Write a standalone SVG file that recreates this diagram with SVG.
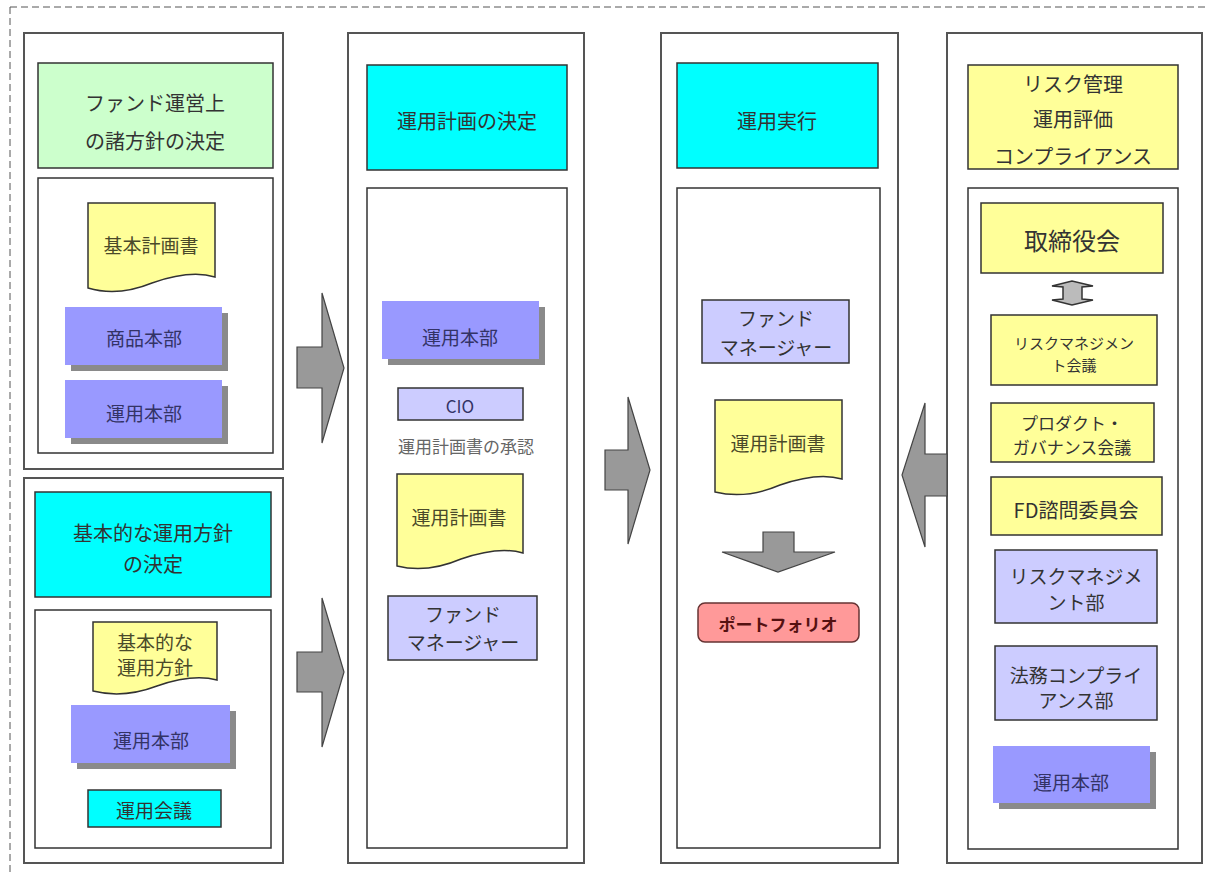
<svg xmlns="http://www.w3.org/2000/svg" width="1206" height="874" viewBox="0 0 1206 874">
<style>
text{font-family:"Noto Sans CJK JP","Noto Sans",sans-serif;text-anchor:middle;dominant-baseline:central;fill:#333}
.outer{fill:#fff;stroke:#555;stroke-width:2}
.inner{fill:#fff;stroke:#333;stroke-width:1.5}
.green{fill:#ccffcc;stroke:#333;stroke-width:1.5}
.cyan{fill:#00ffff;stroke:#333;stroke-width:1.5}
.yellow{fill:#ffff99;stroke:#333;stroke-width:1.5}
.lav{fill:#ccccff;stroke:#333;stroke-width:1.5}
.purple{fill:#9999ff}
.shadow{fill:#8a8a8a}
.doc{fill:#ffff99;stroke:#333;stroke-width:1.5}
.pink{fill:#ff9999;stroke:#663333;stroke-width:1.5}
.arrow{fill:#999;stroke:#444;stroke-width:1.2}
.h{font-size:20px}
.m{font-size:19px}
.s{font-size:17px}
.pt{fill:#333366}
.dt{fill:#4a4a2a}
</style>
<path d="M10,7 H1206 M10,7 V874" fill="none" stroke="#555" stroke-width="1" stroke-dasharray="7,4"/>

<g id="col1-top">
<rect class="outer" x="24" y="33" width="259" height="436"/>
<rect class="green" x="38" y="63" width="235" height="105"/>
<text class="h" x="155" y="102">ファンド運営上</text>
<text class="h" x="155" y="140">の諸方針の決定</text>
<rect class="inner" x="38" y="178" width="235" height="275"/>
</g>
<g id="doc-kihon-keikaku">
<path class="doc" d="M88,203 H215 V277 C195,271 172,276 152,283 C130,292 108,294 88,288 Z"/>
<text class="m dt" x="151" y="244">基本計画書</text>
</g>
<g id="shohin-honbu">
<rect class="shadow" x="71" y="313" width="157" height="58"/>
<rect class="purple" x="65" y="307" width="157" height="58"/>
<text class="m pt" x="144" y="337">商品本部</text>
</g>
<g id="unyo-honbu-1">
<rect class="shadow" x="71" y="386" width="157" height="58"/>
<rect class="purple" x="65" y="380" width="157" height="58"/>
<text class="m pt" x="144" y="412">運用本部</text>
</g>

<g id="col1-bottom">
<rect class="outer" x="24" y="478" width="259" height="385"/>
<rect class="cyan" x="35" y="492" width="236" height="105"/>
<text class="h" x="153" y="532">基本的な運用方針</text>
<text class="h" x="153" y="563">の決定</text>
<rect class="inner" x="35" y="610" width="236" height="238"/>
</g>
<g id="doc-kihonteki">
<path class="doc" d="M93,622 H217 V680 C198,675 177,679 157,686 C136,694 113,696 93,691 Z"/>
<text class="m dt" x="155" y="641">基本的な</text>
<text class="m dt" x="155" y="666">運用方針</text>
</g>
<g id="unyo-honbu-2">
<rect class="shadow" x="77" y="711" width="159" height="58"/>
<rect class="purple" x="71" y="705" width="159" height="58"/>
<text class="m pt" x="151" y="739">運用本部</text>
</g>
<g id="unyo-kaigi">
<rect class="cyan" x="88" y="790" width="133" height="37"/>
<text class="m" x="154" y="809">運用会議</text>
</g>

<g id="col2">
<rect class="outer" x="348" y="33" width="236" height="830"/>
<rect class="cyan" x="367" y="65" width="200" height="105"/>
<text class="h" x="467" y="120">運用計画の決定</text>
<rect class="inner" x="367" y="188" width="200" height="660"/>
</g>
<g id="unyo-honbu-3">
<rect class="shadow" x="388" y="307" width="157" height="58"/>
<rect class="purple" x="382" y="301" width="157" height="58"/>
<text class="m pt" x="460" y="336">運用本部</text>
</g>
<g id="cio">
<rect class="lav" x="398" y="388" width="125" height="32"/>
<text class="s pt" x="460" y="405">CIO</text>
</g>
<g id="shonin-label">
<text class="s" x="466" y="445" style="fill:#666">運用計画書の承認</text>
</g>
<g id="doc-unyo-keikaku-1">
<path class="doc" d="M397,474 H523 V553 C503,547 481,552 461,559 C440,568 417,571 397,566 Z"/>
<text class="m dt" x="459" y="516">運用計画書</text>
</g>
<g id="fm-1">
<rect class="lav" x="388" y="596" width="149" height="64"/>
<text class="m" x="463" y="613">ファンド</text>
<text class="m" x="463" y="641">マネージャー</text>
</g>

<g id="col3">
<rect class="outer" x="661" y="33" width="237" height="830"/>
<rect class="cyan" x="677" y="63" width="201" height="105"/>
<text class="h" x="777" y="120">運用実行</text>
<rect class="inner" x="677" y="188" width="203" height="660"/>
</g>
<g id="fm-2">
<rect class="lav" x="702" y="300" width="147" height="63"/>
<text class="m" x="776" y="317">ファンド</text>
<text class="m" x="776" y="346">マネージャー</text>
</g>
<g id="doc-unyo-keikaku-2">
<path class="doc" d="M715,400 H842 V479 C822,473 800,478 780,485 C759,494 736,497 715,492 Z"/>
<text class="m dt" x="778" y="442">運用計画書</text>
</g>
<g id="portfolio">
<rect class="pink" x="698" y="603" width="161" height="39" rx="7"/>
<text class="s" x="778" y="623" style="fill:#551111;font-weight:bold">ポートフォリオ</text>
</g>

<g id="col4">
<rect class="outer" x="947" y="33" width="255" height="830"/>
<rect class="yellow" x="968" y="65" width="210" height="104"/>
<text class="h" x="1073" y="83">リスク管理</text>
<text class="h" x="1073" y="118">運用評価</text>
<text class="h" x="1073" y="155">コンプライアンス</text>
<rect class="inner" x="968" y="188" width="210" height="661"/>
</g>
<g id="torishimariyakukai">
<rect class="yellow" x="981" y="203" width="182" height="70"/>
<text x="1072" y="239" style="font-size:24px">取締役会</text>
</g>
<g id="risk-kaigi">
<rect class="yellow" x="991" y="315" width="166" height="70"/>
<text x="1074" y="342" style="font-size:15px">リスクマネジメン</text>
<text x="1074" y="364" style="font-size:15px">ト会議</text>
</g>
<g id="product-kaigi">
<rect class="yellow" x="991" y="403" width="163" height="59"/>
<text class="s" x="1072" y="422">プロダクト・</text>
<text class="s" x="1072" y="446">ガバナンス会議</text>
</g>
<g id="fd-iinkai">
<rect class="yellow" x="991" y="477" width="171" height="58"/>
<text class="h" x="1076" y="509">FD諮問委員会</text>
</g>
<g id="risk-bu">
<rect class="lav" x="995" y="550" width="162" height="73"/>
<text class="m" x="1076" y="575">リスクマネジメ</text>
<text class="m" x="1076" y="601">ント部</text>
</g>
<g id="homu-bu">
<rect class="lav" x="995" y="646" width="162" height="74"/>
<text class="m" x="1076" y="674">法務コンプライ</text>
<text class="m" x="1076" y="699">アンス部</text>
</g>
<g id="unyo-honbu-4">
<rect class="shadow" x="999" y="752" width="157" height="57"/>
<rect class="purple" x="993" y="746" width="157" height="57"/>
<text class="m pt" x="1071" y="781">運用本部</text>
</g>

<g id="connectors">
<polygon class="arrow" points="297,347 322,347 322,293 344,368 322,443 322,388 297,388"/>
<polygon class="arrow" points="297,652 322,652 322,598 344,672 322,747 322,692 297,692"/>
<polygon class="arrow" points="605,450 628,450 628,397 650,470 628,544 628,490 605,490"/>
<polygon class="arrow" points="947,454 925,454 925,403 902,475 925,547 925,496 947,496"/>
<polygon class="arrow" points="763,532 794,532 794,552 835,552 778,572 722,552 763,552"/>
<polygon points="1052,286 1072,281 1093,286 1082,287 1082,299 1093,300 1072,305 1052,300 1063,299 1063,287" fill="#bbb" stroke="#333" stroke-width="1.5"/>
</g>
</svg>
